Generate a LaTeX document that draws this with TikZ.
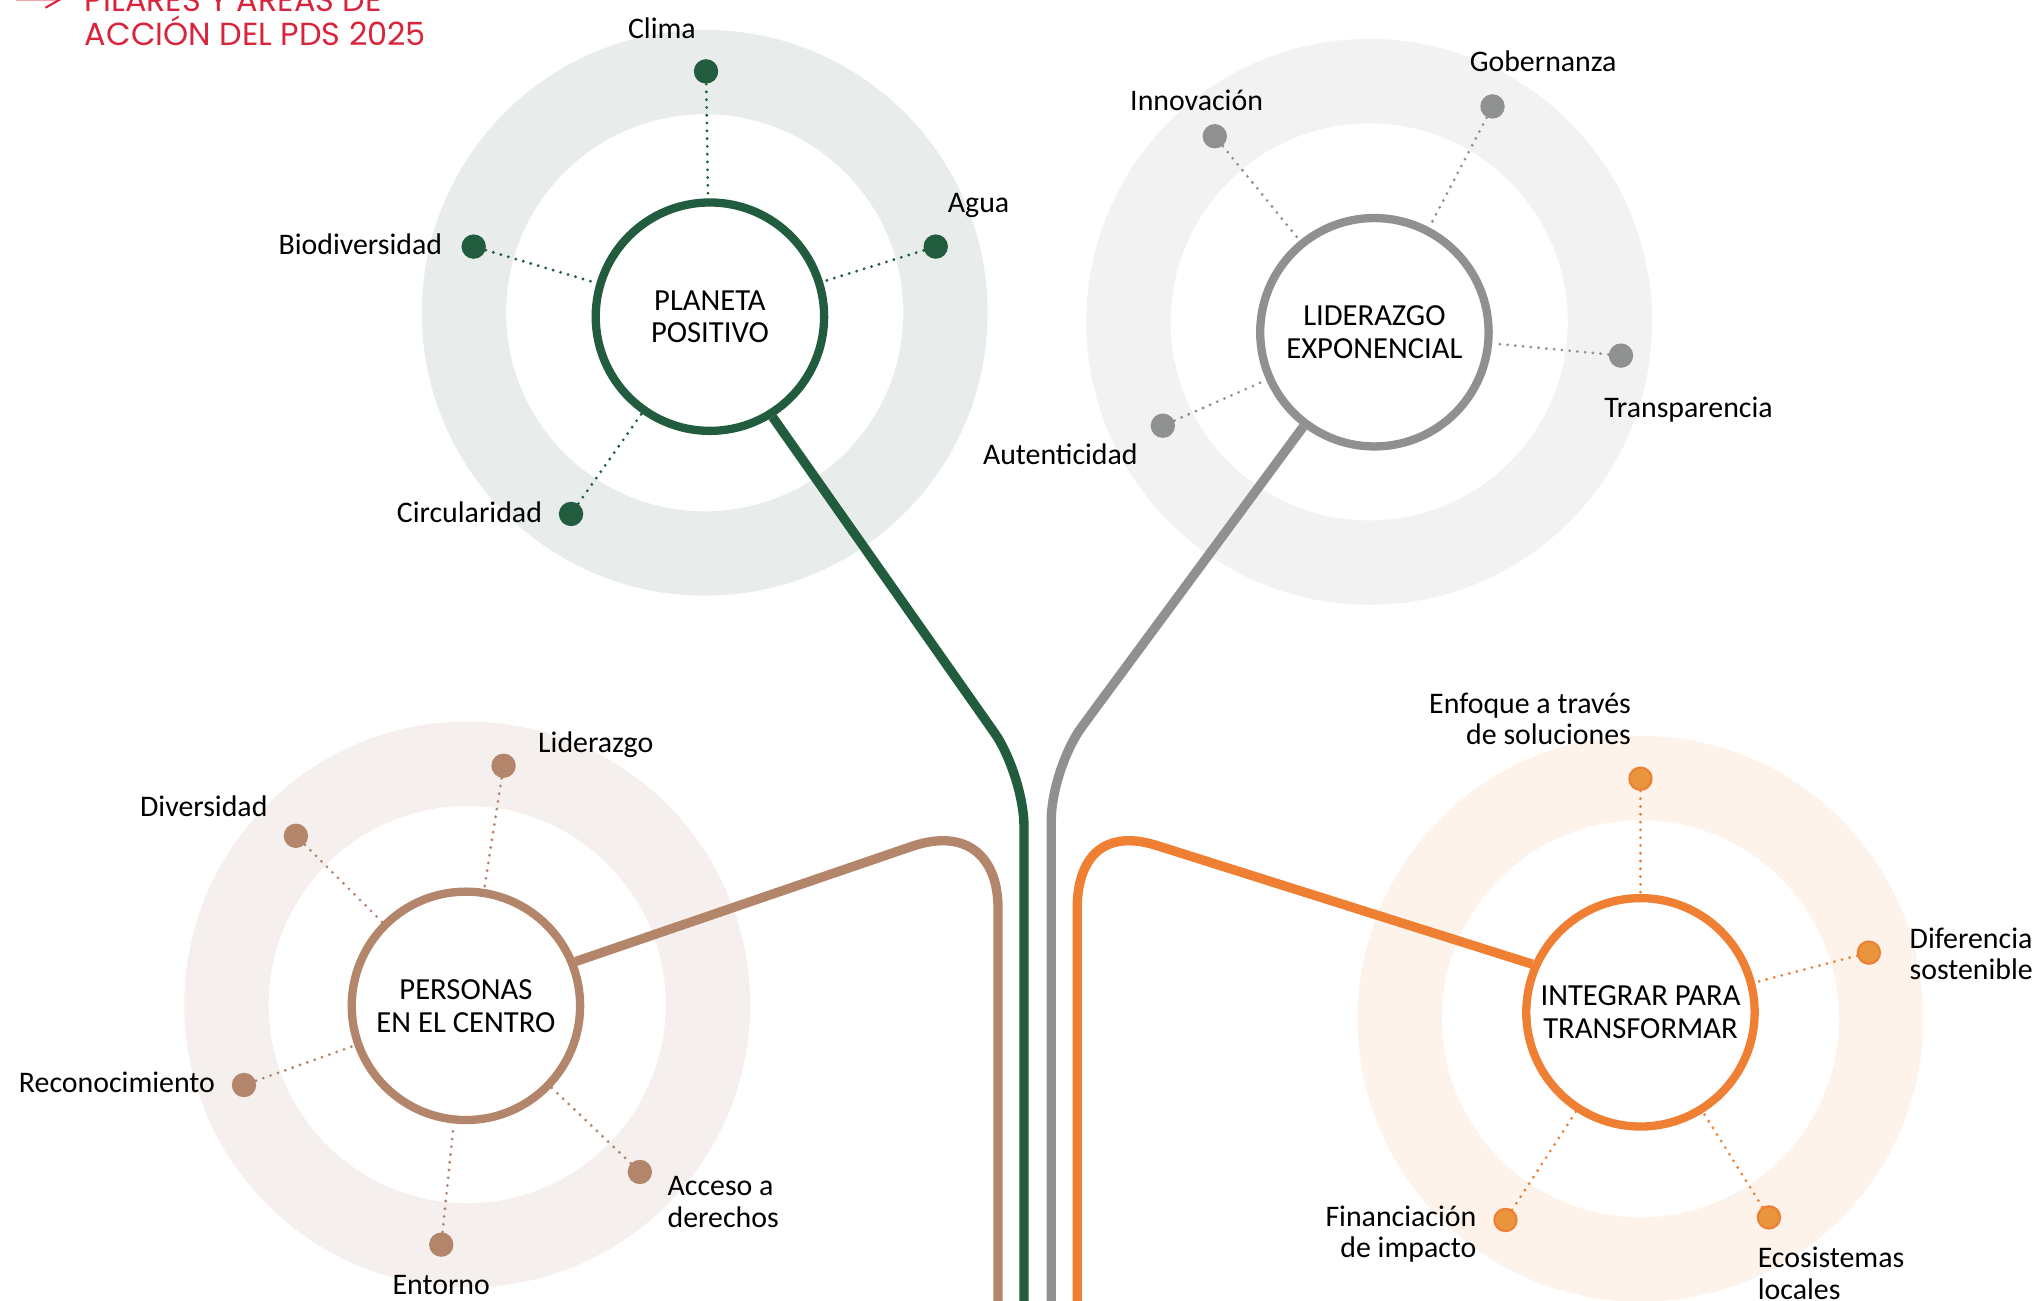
\documentclass[tikz,border=0pt]{standalone}
\usepackage{fontspec}
\setmainfont{Carlito}
\newfontfamily\titlefont{Poppins}
\definecolor{grMain}{HTML}{215C3F}
\definecolor{grRing}{HTML}{E8ECEA}
\definecolor{gyMain}{HTML}{8E918F}
\definecolor{gyRing}{HTML}{F2F2F2}
\definecolor{brMain}{HTML}{B3856A}
\definecolor{brRing}{HTML}{F5F0ED}
\definecolor{orMain}{HTML}{EE7F33}
\definecolor{orDot}{HTML}{E8953E}
\definecolor{orRing}{HTML}{FDF3EA}
\definecolor{titleRed}{HTML}{D8253C}
\definecolor{arrowPink}{HTML}{F2A3AC}
\begin{document}
\begin{tikzpicture}[x={(0.5pt,0)}, y={(0,-0.5pt)},
  ringband/.style={draw=#1, line width=32.5pt},
  hub/.style={circle, draw=#1, line width=3.2pt, fill=white, minimum size=88pt,
    inner sep=0pt, align=center, font=\fontsize{11.8}{12.6}\selectfont},
  sat/.style={circle, fill=#1, minimum size=9.4pt, inner sep=0pt},
  osat/.style={circle, fill=orDot, draw=orMain, line width=0.8pt, minimum size=8.6pt, inner sep=0pt},
  lab/.style={font=\fontsize{11.5}{12.2}\selectfont, inner sep=0pt},
  dotline/.style={draw=#1, line width=1.2pt, line cap=round, dash pattern=on 0pt off 3pt},
  stem/.style={draw=#1, line width=3.6pt}]
\useasboundingbox (0,0) rectangle (1568,1002);
\clip (0,0) rectangle (1568,1002);

% rings
\draw[ringband=grRing] (543,241) circle[radius=185.5];
\draw[ringband=gyRing] (1055,248) circle[radius=185.5];
\draw[ringband=brRing] (360,774) circle[radius=185.5];
\draw[ringband=orRing] (1264,785) circle[radius=185.5];

% title
\coordinate (arrA) at (12,-0.3);
\coordinate (arrB) at (46,-0.3);
\coordinate (arrC) at (35,6);
\coordinate (arrD) at (35,-7);
\draw[arrowPink, line width=0.9pt] (arrA) -- (arrB);
\draw[titleRed, line width=0.8pt] (arrD) -- (arrB) -- (arrC);
\node[anchor=south west, inner sep=0pt, align=left, text=titleRed,
  font=\titlefont\fontsize{12.3}{13.2}\selectfont] (title) at (65,36)
  {PILARES Y ÁREAS DE\\ACCIÓN DEL PDS 2025};

% hubs
\node[hub=grMain] (pp) at (547,244) {PLANETA\\POSITIVO};
\node[hub=gyMain] (le) at (1059,256) {LIDERAZGO\\EXPONENCIAL};
\node[hub=brMain] (pc) at (359,775) {PERSONAS\\EN EL CENTRO};
\node[hub=orMain] (it) at (1264,780) {INTEGRAR PARA\\TRANSFORMAR};

% stems
\draw[stem=grMain, rounded corners=20pt] (pp.-58) -- (789,597) -- (789,1010);
\draw[stem=gyMain, rounded corners=20pt] (le.-127.6) -- (810,592) -- (810,1010);
\draw[stem=brMain] (pc.22) -- (703,652) .. controls (745,638) and (769,660) .. (769,700) -- (769,1010);
\draw[stem=orMain] (it.156.6) -- (893,652) .. controls (851,638) and (830,660) .. (830,700) -- (830,1010);

% planeta positivo satellites
\node[sat=grMain] (clima) at (544,55) {};
\node[sat=grMain] (agua) at (721,190) {};
\node[sat=grMain] (biod) at (365,190) {};
\node[sat=grMain] (circ) at (440,396) {};
\node[lab] (lclima) at (510,22) {Clima};
\node[lab] (lagua) at (754,158) {Agua};
\node[lab, anchor=east] (lbiod) at (341,188) {Biodiversidad};
\node[lab, anchor=east] (lcirc) at (418,395) {Circularidad};
\draw[dotline=grMain] (clima) -- (pp);
\draw[dotline=grMain] (agua) -- (pp);
\draw[dotline=grMain] (biod) -- (pp);
\draw[dotline=grMain] (circ) -- (pp);

% liderazgo exponencial satellites
\node[sat=gyMain] (inno) at (936,105) {};
\node[sat=gyMain] (gobe) at (1150,82) {};
\node[sat=gyMain] (tran) at (1249,274) {};
\node[sat=gyMain] (aute) at (896,328) {};
\node[lab] (linno) at (922,77) {Innovación};
\node[lab] (lgobe) at (1189,47) {Gobernanza};
\node[lab] (ltran) at (1301,316) {Transparencia};
\node[lab] (laute) at (817,350) {Autenticidad};
\draw[dotline=gyMain] (inno) -- (le);
\draw[dotline=gyMain] (gobe) -- (le);
\draw[dotline=gyMain] (tran) -- (le);
\draw[dotline=gyMain] (aute) -- (le);

% personas en el centro satellites
\node[sat=brMain] (lide) at (388,590) {};
\node[sat=brMain] (dive) at (228,644) {};
\node[sat=brMain] (reco) at (188,836) {};
\node[sat=brMain] (acce) at (493,903) {};
\node[sat=brMain] (ento) at (340,959) {};
\node[lab] (llide) at (459,574) {Liderazgo};
\node[lab] (ldive) at (157,621) {Diversidad};
\node[lab, anchor=east] (lreco) at (166,834) {Reconocimiento};
\node[lab, anchor=west, align=left] (lacce) at (514,926) {Acceso a\\derechos};
\node[lab] (lento) at (340,990) {Entorno};
\draw[dotline=brMain] (lide) -- (pc);
\draw[dotline=brMain] (dive) -- (pc);
\draw[dotline=brMain] (reco) -- (pc);
\draw[dotline=brMain] (acce) -- (pc);
\draw[dotline=brMain] (ento) -- (pc);

% integrar para transformar satellites
\node[osat] (enfo) at (1264,600) {};
\node[osat] (dife) at (1440,734) {};
\node[osat] (fina) at (1160,940) {};
\node[osat] (ecos) at (1363,938) {};
\node[lab, anchor=east, align=right] (lenfo) at (1257,554) {Enfoque a través\\de soluciones};
\node[lab, anchor=west, align=left] (ldife) at (1471,735) {Diferencia\\sostenible};
\node[lab, anchor=east, align=right] (lfina) at (1138,951) {Financiación\\de impacto};
\node[lab, anchor=west, align=left] (lecos) at (1354,981) {Ecosistemas\\locales};
\draw[dotline=orMain] (enfo) -- (it);
\draw[dotline=orMain] (dife) -- (it);
\draw[dotline=orMain] (fina) -- (it);
\draw[dotline=orMain] (ecos) -- (it);
\end{tikzpicture}
\end{document}
